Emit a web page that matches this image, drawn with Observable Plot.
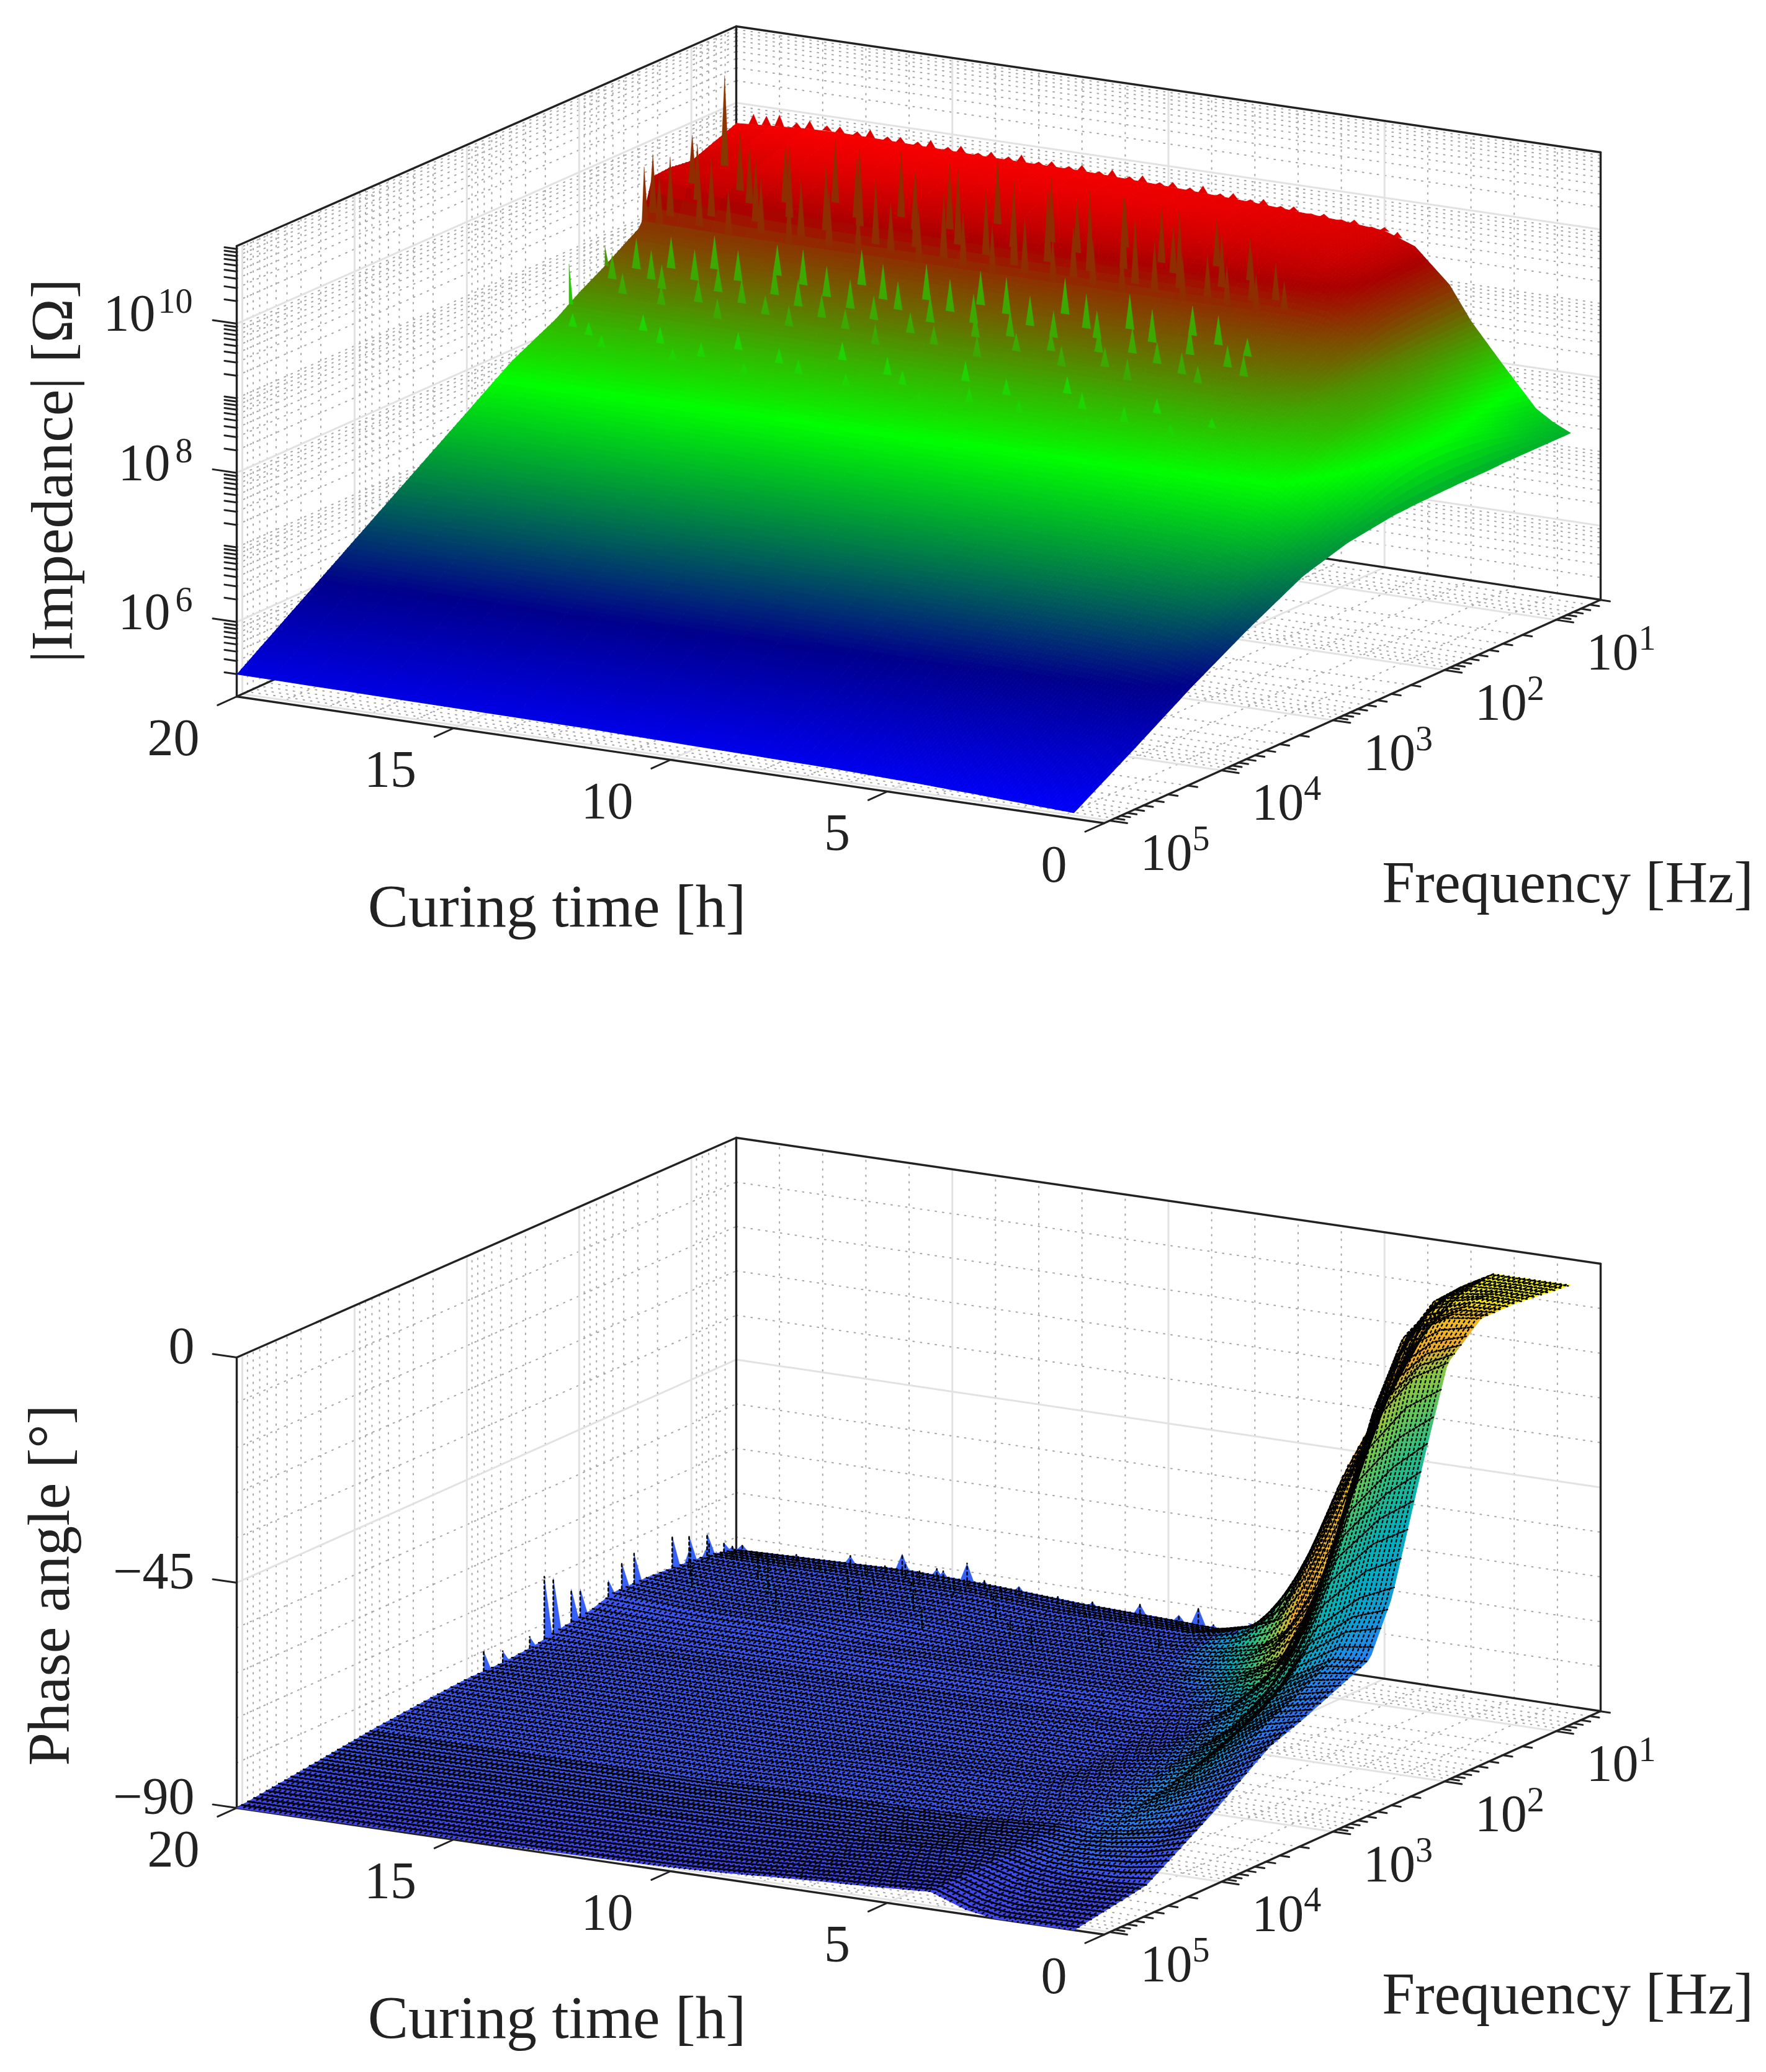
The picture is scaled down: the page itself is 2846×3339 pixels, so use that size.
<!DOCTYPE html>
<html><head><meta charset="utf-8">
<style>html,body{margin:0;padding:0;background:#fff}svg{display:block}</style>
<script src="https://cdn.jsdelivr.net/npm/d3@7"></script>
<script src="https://cdn.jsdelivr.net/npm/@observablehq/plot@0.6"></script>
</head><body><div id="chart"></div>
<script>
// ---------- shared axis values ----------
const timeTicks=[0,5,10,15,20];
const freqDecades=[1,2,3,4,5];
const logFreqMin=0.6, logFreqMax=5.05, timeMax=20;

// ---------- impedance: log10|Z|, rows = log10 f, cols = hours ----------
const impTimes=[0.7,1.1,1.5,2.3,3,3.5,4.3,5,6,8,10,12,14,16,18,20];
const impLogF=[0.6,0.8,1,1.2,1.35,1.45,1.6,1.8,2,2.2,2.6,3,3.5,4,4.5,5.05];
const impLogZ=[
[7.19,7.30,7.45,8.00,8.50,8.95,9.40,9.55,9.60,9.67,9.72,9.76,9.76,9.78,9.80,9.72],
[7.19,7.35,7.50,8.05,8.49,8.94,9.38,9.54,9.58,9.64,9.68,9.70,9.70,9.72,9.70,9.60],
[7.19,7.45,7.60,8.10,8.48,8.92,9.35,9.50,9.52,9.55,9.57,9.58,9.58,9.59,9.60,9.48],
[7.19,7.55,7.70,8.15,8.47,8.88,9.25,9.38,9.38,9.40,9.40,9.41,9.42,9.42,9.46,9.52],
[7.18,7.60,7.75,8.20,8.45,8.82,9.10,9.15,9.16,9.18,9.20,9.22,9.24,9.25,9.30,9.50],
[7.18,7.62,7.78,8.20,8.42,8.74,8.90,8.95,8.94,8.92,8.92,8.91,8.91,8.90,8.90,8.90],
[7.18,7.65,7.80,8.20,8.38,8.64,8.72,8.75,8.76,8.76,8.76,8.75,8.75,8.75,8.75,8.75],
[7.17,7.65,7.80,8.20,8.30,8.48,8.55,8.56,8.56,8.56,8.56,8.56,8.55,8.55,8.55,8.55],
[7.16,7.60,7.78,8.15,8.20,8.30,8.36,8.37,8.37,8.37,8.37,8.37,8.37,8.37,8.37,8.37],
[7.14,7.50,7.70,8.05,8.08,8.12,8.15,8.16,8.15,8.15,8.15,8.15,8.16,8.16,8.16,8.16],
[7.05,7.25,7.45,7.70,7.72,7.74,7.76,7.77,7.78,7.80,7.81,7.82,7.83,7.84,7.84,7.85],
[6.87,6.98,7.12,7.25,7.28,7.31,7.33,7.34,7.35,7.37,7.38,7.39,7.40,7.41,7.42,7.43],
[6.48,6.56,6.68,6.76,6.78,6.80,6.82,6.83,6.84,6.85,6.86,6.87,6.88,6.89,6.90,6.91],
[6.05,6.09,6.15,6.20,6.23,6.25,6.27,6.28,6.29,6.31,6.33,6.35,6.36,6.37,6.38,6.39],
[5.58,5.60,5.62,5.66,5.68,5.70,5.72,5.73,5.74,5.76,5.78,5.80,5.81,5.82,5.84,5.87],
[5.08,5.09,5.10,5.12,5.14,5.15,5.17,5.18,5.20,5.22,5.24,5.26,5.27,5.28,5.29,5.30]];
// noise peaks: hours, log10 f and peak log10|Z|
const redStreakT=[5.2,5.5,5.8,6,6.3,6.5,6.8,7,7.2,7.5,7.7,8,8.2,8.4,8.7,8.9,9.1,9.4,9.6,9.8,10.1,10.3,10.5,10.8,11,11.2,11.5,11.7,11.9,12.2,12.4,12.6,12.9,13.1,13.3,13.6,13.8,14,14.3,14.5,14.7,15,15.2,15.4,15.7,15.9,16.1,16.4,16.6,16.8,17.1,17.3,17.5,17.8,18,18.2,18.5,18.7,18.9,19.2,19.4,19.6,19.8,19.95];
const redStreakF=[1.42,1.38,1.44,1.4,1.3,1.43,1.36,1.41,1.25,1.44,1.39,1.33,1.42,1.28,1.4,1.44,1.35,1.22,1.43,1.38,1.41,1.3,1.44,1.37,1.26,1.42,1.4,1.33,1.44,1.38,1.2,1.43,1.36,1.41,1.28,1.44,1.39,1.32,1.42,1.25,1.4,1.44,1.35,1.3,1.43,1.38,1.22,1.41,1.44,1.36,1.28,1.42,1.39,1.33,1.44,1.26,1.4,1.43,1.37,1.3,1.42,1.44,1.42,1.44];
const redStreakZ=[9.4,9.6,9.45,9.7,9.8,9.5,9.85,9.6,9.95,9.55,10.1,9.85,9.7,10.05,9.95,9.5,10.15,10.05,9.6,10.2,9.7,10,9.55,10.1,10.2,9.75,10.2,9.95,9.6,10,10.3,9.7,10.25,9.9,10.2,9.65,10.1,10.05,9.7,10.25,9.95,9.55,10.3,10.1,9.75,10.05,10.25,9.8,9.6,10.2,10.15,9.75,10,10.1,9.55,10.2,9.9,9.7,10.05,10.1,9.87,9.6,9.87,9.7];
const greenStreakT=[4.9,5.2,5.4,5.7,6,6.2,6.4,6.7,6.9,7.2,7.4,7.6,7.9,8.1,8.3,8.6,8.8,9,9.3,9.5,9.7,10,10.2,10.4,10.7,10.9,11.1,11.4,11.6,11.8,12.1,12.3,12.5,12.8,13,13.2,13.5,13.7,13.9,14.2,14.4,14.6,14.9,15.1,15.3,15.6,15.8,16,16.3,16.5,16.7,17,17.2,17.4,17.7,17.9,18.1,18.4,18.6,18.8,19.1,19.3,19.6];
const greenStreakF=[1.9,1.75,1.85,2,1.7,1.95,1.8,1.66,1.9,2.05,1.75,1.85,1.98,1.68,1.88,1.78,2.02,1.72,1.92,1.82,1.64,1.96,1.76,1.86,2.04,1.7,1.9,1.8,1.66,2,1.74,1.84,1.94,1.68,2.06,1.78,1.88,1.72,1.98,1.82,1.64,1.92,1.76,2.02,1.86,1.7,1.96,1.8,1.66,1.9,2.04,1.74,1.84,1.94,1.68,1.78,2,1.88,1.72,1.82,1.96,1.76,1.86];
const greenStreakZ=[8.75,8.85,8.8,8.6,9.05,8.7,8.95,9.1,8.75,8.6,9.05,8.85,8.65,9.15,8.8,8.95,8.62,9.1,8.7,8.9,9.2,8.65,9,8.85,8.6,9.15,8.78,8.95,9.15,8.62,9.05,8.88,8.7,9.15,8.58,8.95,8.8,9.1,8.65,8.92,9.18,8.75,9,8.62,8.85,9.12,8.66,8.95,9.1,8.78,8.6,9.02,8.85,8.72,9.12,8.98,8.62,8.8,9.05,8.92,8.68,9,8.82];
const lightStreakT=[4.6,5.3,6,6.5,7.1,7.6,8.2,8.8,9.4,10,10.5,11,11.7,12.2,12.8,13.4,14,14.6,15.1,15.7,16.3,16.8,17.4,18,18.5,19,19.5];
const lightStreakF=[2.3,2.4,2.25,2.35,2.45,2.3,2.2,2.4,2.28,2.38,2.22,2.44,2.32,2.26,2.4,2.2,2.36,2.3,2.42,2.24,2.34,2.4,2.28,2.2,2.38,2.3,2.25];
const lightStreakZ=[8.2,8.12,8.3,8.22,8.1,8.28,8.38,8.14,8.3,8.2,8.4,8.08,8.24,8.34,8.16,8.4,8.22,8.28,8.12,8.36,8.24,8.16,8.32,8.38,8.18,8.26,8.3];
const backToothT=[4.7,5,5.3,5.7,6,6.4,6.7,7.1,7.4,7.8,8.1,8.5,8.8,9.2,9.5,9.9,10.2,10.6,10.9,11.3,11.6,12,12.3,12.7,13,13.4,13.7,14.1,14.4,14.8,15.1,15.5,15.8,16.2,16.5,16.9,17.2,17.6,17.9,18.3,18.6,19,19.3,19.6];
const backToothZ=[9.56,9.6,9.58,9.64,9.62,9.66,9.64,9.7,9.68,9.74,9.71,9.76,9.73,9.8,9.75,9.79,9.76,9.82,9.78,9.84,9.79,9.84,9.8,9.83,9.8,9.86,9.81,9.84,9.8,9.86,9.82,9.88,9.83,9.86,9.84,9.9,9.85,9.88,9.87,9.9,9.85,9.92,9.88,9.88];
const tallPeakT=[19.1,20,20], tallPeakF=[1.05,2.09,1.77], tallPeakZ=[10.75,8.82,8.84], tallPeakShade=[8.9,8.0,8.3];
const impDecades=[6,8,10];

// ---------- phase angle (degrees) ----------
const phaseTimes=[0.7,1.5,2.5,3.2,4,5,5.9,6.5,7.4,8.5,10,12,14,16,18,20];
const phaseLogF=[0.6,0.85,1.1,1.4,1.7,1.9,2.05,2.2,2.4,2.7,3,3.3,3.8,4.4,5.05];
const phaseDeg=[
[-5.2,-5.2,-5.2,-10,-18,-34,-49,-62,-81,-85,-84.5,-84,-83,-82.5,-83,-83.5],
[-4.6,-4.6,-5,-9,-24,-44,-62,-72,-80,-83,-83,-83,-82,-82,-82,-82],
[-4,-4,-6,-14,-35,-62,-76,-80,-82,-83,-83,-83,-82,-82,-82,-81.5],
[-4,-5,-10,-26,-52,-76,-81,-82,-83,-83,-83,-83,-82,-82,-82,-81],
[-10,-14,-25,-46,-68,-80,-82,-83,-83,-83,-83,-83,-83,-82,-82,-81],
[-26,-32,-42,-58,-74,-81,-83,-83,-83,-83,-83,-83,-83,-83,-83,-82.5],
[-39,-43,-52,-66,-77,-82,-83,-83.5,-83.5,-83.5,-83.5,-83.5,-83.5,-83.5,-83.5,-83],
[-52,-55,-62,-72,-79,-82.5,-83.5,-84,-84,-84,-84,-84,-84,-84,-84,-83.5],
[-62.5,-63,-68,-76,-81,-83,-84,-84,-84,-84,-84,-84,-84,-84,-84,-84.5],
[-65.5,-67,-72,-79,-82,-83.5,-84.5,-84.5,-84.5,-84.5,-84.5,-84.5,-84.5,-84.5,-84.5,-85],
[-68.5,-70,-76,-81,-83,-84,-85,-85,-85,-85,-85,-85,-85,-85,-85,-85],
[-71,-75,-80,-83,-84,-84.5,-85,-85,-85,-85,-85,-85.5,-85.5,-85.5,-85.5,-85.5],
[-79,-82,-84,-85,-85,-85.5,-86,-86,-86,-86,-86,-86.5,-86.5,-86.5,-86.5,-86.5],
[-87.5,-88,-88,-87.5,-86,-86,-86.4,-86.6,-87,-87.2,-87.6,-87.8,-88,-88,-88.2,-88.2],
[-90,-90,-90,-89,-86.5,-87,-87.4,-87.6,-88,-88.6,-89.2,-89.5,-89.7,-89.8,-89.9,-90]];
// the picture's surface colour does not follow the height exactly: colour read separately
const shadeTimes=phaseTimes.slice(0,10);
const phaseShade=[
[0,0,0,-5,-10,-15,-20,-30,-50,-83],
[0,0,-2,-6,-10,-13,-16,-28,-52,-83],
[-2,-2,-4,-8,-12,-14,-20,-36,-60,-83],
[-12,-12,-12,-12,-14,-18,-36,-56,-78,-83],
[-28,-28,-26,-24,-22,-38,-60,-78,-83,-83],
[-44,-42,-38,-34,-36,-58,-78,-83,-83,-83],
[-55,-52,-48,-42,-46,-68,-83,-83,-83,-83],
[-62,-58,-54,-48,-54,-78,-83,-83,-83,-83],
[-72,-66,-58,-52,-62,-83,-83,-83,-83,-83],
[-76,-70,-60,-56,-72,-83,-83,-83,-83,-83],
[-78,-72,-60,-60,-78,-83,-83,-83,-83,-83],
[-80,-74,-64,-68,-80,-83,-83,-83,-83,-83],
[-82,-78,-72,-76,-83,-83,-83,-83,-83,-83],
[-84,-84,-84,-84,-84,-84,-84,-84,-84,-84],
[-86,-86,-86,-86,-86,-86,-86,-86,-86,-86]];
const phasePeakT=[20,20,20,20,20,20,20,20,20,20,20,20,20,20,19.6,19.2,18.8,18.35,17.9,17.5,17.1,16.7,16.3,15.9,15.5,15.1,14.7,14.4,14,13.6,13.2,12.8,12.3,11.9,11.5,11,10.4,10,9.5,9.05,8.7,8.2,7.7];
const phasePeakF=[2.85,2.68,2.44,2.31,2.23,2.07,1.99,1.74,1.62,1.51,1.17,1.02,0.86,0.71,0.7,0.7,0.7,0.7,0.7,0.7,0.7,0.7,0.7,0.7,0.7,0.7,0.7,0.7,0.7,0.7,0.7,0.7,0.7,0.7,0.7,0.7,0.7,0.7,0.7,0.7,0.7,0.7,0.7];
const phasePeakDeg=[-81,-82.7,-82.3,-71.5,-72.5,-76.4,-77.2,-78,-75.7,-75,-75,-76.5,-77.5,-81,-81,-82,-83,-81.4,-82.5,-83,-80,-82,-81,-78,-81,-80,-82,-78,-81,-82,-81,-83,-82,-83,-82,-83,-81,-83,-82,-80,-83,-83.5,-83];
const phaseToothT=[19.85,19.7,19.4,19,18.6,18.1,17.7,17.3,16.9,16.5,16.1,15.7,15.3,14.9,14.55,14.2,13.8,13.4,13,12.6,12.1,11.7,11.25,10.8,10.2,9.75,9.3,8.9,8.45,8,19.5,18.95,18.2,17.45,16.75,16,15.2,14.35,13.5,12.7,11.85,11.1,10.3,9.6,8.8];
const phaseToothF=[0.9,0.75,0.85,0.72,0.8,0.9,0.75,0.85,0.72,0.8,0.88,0.75,0.85,0.72,0.8,0.9,0.75,0.85,0.72,0.8,0.88,0.75,0.85,0.72,0.8,0.9,0.75,0.85,0.72,0.8,1.2,1.4,1.1,1.3,1.5,1.15,1.35,1.2,1.45,1.1,1.3,1.4,1.2,1.35,1.15];
const phaseToothDeg=[-79,-81,-80,-82,-81,-80,-83,-81,-82.5,-80,-81,-79,-81,-80,-82,-79,-82,-81,-82,-83,-83,-83.5,-82,-83.5,-82,-83,-83.5,-82,-83,-83.5,-76,-78,-77,-75,-78,-77,-76,-75,-78,-79,-80,-79,-80,-79,-80];
const phaseTicks=[-90,-45,0];

// ---------- view of the box (camera read from the box corners) ----------
const floorCorners={a:[1779,1326],b:[381,1122],c:[2579,966],d:[1186,757]};
const wallHeights={a:732,b:726,c:721,d:715};
function projector(vmin,vmax,shift){
  return (t,lf,v)=>{
    const u=t/timeMax,w=(logFreqMax-lf)/(logFreqMax-logFreqMin);
    const mix=k=>(1-u)*(1-w)*k.a+u*(1-w)*k.b+(1-u)*w*k.c+u*w*k.d;
    const X=mix({a:floorCorners.a[0],b:floorCorners.b[0],c:floorCorners.c[0],d:floorCorners.d[0]});
    const Y=mix({a:floorCorners.a[1],b:floorCorners.b[1],c:floorCorners.c[1],d:floorCorners.d[1]});
    return [X,Y-mix(wallHeights)*(v-vmin)/(vmax-vmin)+shift];
  };
}
function lookup(table,rows,cols){
  return (t,lf)=>{
    const loc=(arr,v)=>{let i=Math.min(arr.length-2,Math.max(0,d3.bisectRight(arr,v)-1));
      return [i,Math.max(0,Math.min(1,(v-arr[i])/(arr[i+1]-arr[i])))];};
    const [i,a]=loc(rows,lf),[j,b]=loc(cols,t);
    return (1-a)*((1-b)*table[i][j]+b*table[i][j+1])+a*((1-b)*table[i+1][j]+b*table[i+1][j+1]);
  };
}
// shading positions (like shader=interp): where the table is sampled for drawing
const shadeLf=[...d3.range(0.6,2,0.03),...d3.range(2,5.05,0.035),5.05];
const shadeT=[...d3.range(20,8,-0.8),...d3.range(8,5.5,-0.25),...d3.range(5.5,0.7,-0.08),0.7];

function surfaceRows(height,shade,proj){
  const out=[];let id=0;
  for(let i=0;i<shadeLf.length-1;i++)for(let j=0;j<shadeT.length-1;j++){
    const a=shadeLf[i],b=shadeLf[i+1],p=shadeT[j],q=shadeT[j+1];
    const c=shade((p+q)/2,(a+b)/2);
    for(const [t,f] of [[p,a],[q,a],[q,b],[p,b]]){const P=proj(t,f,height(t,f));out.push({x:P[0],y:P[1],id,c});}
    id++;
  }
  return out;
}
function peakRows(ts,fs,zs,shades,width,height,proj){
  const out=[];
  ts.forEach((t,k)=>{
    const f=fs(k),base=height(t,f),c=shades(k);
    for(const [tt,v] of [[Math.min(20,t+width),base],[t,zs[k]],[t-width,base]]){const P=proj(tt,f,v);out.push({x:P[0],y:P[1],id:k,c});}
  });
  return out;
}
function lineRows(list,proj){ // list of [[t,lf,v],[t,lf,v],...]
  const out=[];list.forEach((pts,id)=>pts.forEach(p=>{const P=proj(...p);out.push({x:P[0],y:P[1],id});}));return out;
}
const T0=0,T1=timeMax,F0=logFreqMin,F1=logFreqMax;
function grid(vmin,vmax,majorV,minorV,proj){
  const major=[],minor=[];
  const lfMinor=[];for(let e=0;e<6;e++)for(let k=2;k<10;k++){const v=e+Math.log10(k);if(v>F0&&v<F1)lfMinor.push(v);}
  const tMinor=d3.range(1,20).filter(t=>t%5);
  for(const v of majorV){major.push([[T1,F1,v],[T1,F0,v]],[[T1,F0,v],[T0,F0,v]]);}
  for(const v of minorV){minor.push([[T1,F1,v],[T1,F0,v]],[[T1,F0,v],[T0,F0,v]]);}
  for(const e of freqDecades){major.push([[T1,e,vmin],[T1,e,vmax]],[[T0,e,vmin],[T1,e,vmin]]);}
  for(const t of [5,10,15]){major.push([[t,F0,vmin],[t,F0,vmax]],[[t,F1,vmin],[t,F0,vmin]]);}
  for(const f of lfMinor){minor.push([[T1,f,vmin],[T1,f,vmax]],[[T0,f,vmin],[T1,f,vmin]]);}
  for(const t of tMinor){minor.push([[t,F0,vmin],[t,F0,vmax]],[[t,F1,vmin],[t,F0,vmin]]);}
  return [
    Plot.line(lineRows(minor,proj),{x:"x",y:"y",z:"id",stroke:"#a6a6a6",strokeWidth:2,strokeDasharray:"2 10"}),
    Plot.line(lineRows(major,proj),{x:"x",y:"y",z:"id",stroke:"#e2e2e2",strokeWidth:3})
  ];
}
function box(vmin,vmax,proj){
  const edges=[
    [[T1,F1,vmin],[T1,F1,vmax]],[[T1,F1,vmax],[T1,F0,vmax]],[[T1,F0,vmax],[T0,F0,vmax]],
    [[T0,F0,vmax],[T0,F0,vmin]],[[T1,F0,vmin],[T1,F0,vmax]],
    [[T0,F0,vmin],[T1,F0,vmin]],[[T1,F0,vmin],[T1,F1,vmin]],
    [[T0,F1,vmin],[T1,F1,vmin]],[[T0,F1,vmin],[T0,F0,vmin]]];
  return Plot.line(lineRows(edges,proj),{x:"x",y:"y",z:"id",stroke:"#222",strokeWidth:3.4});
}
function floorTicks(vmin,proj){
  const ticks=[];
  for(const t of timeTicks)ticks.push([[t,F1,vmin],[t,F1+0.17,vmin]]);
  for(let e=1;e<=5;e++)ticks.push([[0,e,vmin],[-0.4,e,vmin]]);
  for(let e=0;e<5;e++)for(let k=2;k<10;k++){const f=e+Math.log10(k);if(f>F0&&f<F1)ticks.push([[0,f,vmin],[-0.22,f,vmin]]);}
  return Plot.line(lineRows(ticks,proj),{x:"x",y:"y",z:"id",stroke:"#222",strokeWidth:3});
}
const serif="Liberation Serif";
function floorLabels(vmin,proj){
  const p=a=>proj(...a);
  return [
    Plot.text(timeTicks,{x:t=>p([t,F1,vmin])[0],y:t=>p([t,F1,vmin])[1],text:t=>String(t),dx:-60,dy:68,textAnchor:"end",fontFamily:serif,fontSize:84,fill:"#222"}),
    Plot.text(freqDecades,{x:e=>p([0,e,vmin])[0],y:e=>p([0,e,vmin])[1],text:()=>"10",dx:91,dy:53,fontFamily:serif,fontSize:84,fill:"#222"}),
    Plot.text(freqDecades,{x:e=>p([0,e,vmin])[0],y:e=>p([0,e,vmin])[1],text:e=>String(e),dx:147,dy:30,fontFamily:serif,fontSize:56,fill:"#222"})
  ];
}
function titles(side,sideX,sideY,shift){
  return [
    Plot.text([side],{x:sideX,y:sideY,text:d=>d,rotate:-90,fontFamily:serif,fontSize:96,fill:"#222"}),
    Plot.text(["Curing time [h]"],{x:897,y:1461+shift,text:d=>d,fontFamily:serif,fontSize:98,fill:"#222"}),
    Plot.text(["Frequency [Hz]"],{x:2526,y:1423+shift,text:d=>d,fontFamily:serif,fontSize:95,fill:"#222"})
  ];
}
function frame(height,color,marks){
  return Plot.plot({width:2846,height,margin:0,
    x:{domain:[0,2846],range:[0,2846],axis:null},y:{domain:[0,height],range:[0,height],axis:null},
    color,style:{background:"#fff"},marks});
}

// ---------- top panel ----------
const zMin=5,zMax=11.04;
const pA=projector(zMin,zMax,0);
const impH=lookup(impLogZ,impLogF,impTimes);
const zMinor=[];for(let e=5;e<11;e++)for(let k=1;k<10;k++){const v=e+Math.log10(k);if(!impDecades.includes(v)&&v>zMin)zMinor.push(v);}
zMinor.push(11);
const zTicksMinor=zMinor.map(v=>[[T1,F1,v],[T1+0.28,F1,v]]),zTicksMajor=impDecades.map(v=>[[T1,F1,v],[T1+0.55,F1,v]]);
const fillOpts={x:"x",y:"y",z:"id",fill:"c",stroke:"c",strokeWidth:1.1};
const thin={...fillOpts,strokeWidth:.4};
const impColor={type:"linear",domain:[5.05,6.05,7.7,8.6,9.25,9.65,9.85],range:["#0000ff","#00008c","#00ff00","#6e6400","#aa0000","#e60000","#ff0000"],interpolate:"rgb",clamp:true};
const topPlot=frame(1670,impColor,[
  ...grid(zMin,zMax,impDecades,zMinor,pA),
  box(zMin,zMax,pA),floorTicks(zMin,pA),
  Plot.line(lineRows([...zTicksMinor,...zTicksMajor],pA),{x:"x",y:"y",z:"id",stroke:"#222",strokeWidth:3}),
  Plot.line(peakRows(backToothT,()=>0.6,backToothZ,()=>9.62,0.11,impH,pA),thin),
  Plot.line(surfaceRows(impH,impH,pA),fillOpts),
  Plot.line(peakRows(redStreakT,k=>redStreakF[k],redStreakZ,()=>8.95,0.09,impH,pA),thin),
  Plot.line(peakRows(greenStreakT,k=>greenStreakF[k],greenStreakZ,()=>8.2,0.1,impH,pA),thin),
  Plot.line(peakRows(lightStreakT,k=>lightStreakF[k],lightStreakZ,()=>7.95,0.1,impH,pA),thin),
  Plot.line(peakRows(tallPeakT,k=>tallPeakF[k],tallPeakZ,k=>tallPeakShade[k],0.09,impH,pA),thin),
  ...floorLabels(zMin,pA),
  Plot.text(impDecades,{x:v=>pA(T1,F1,v)[0]-(v===10?131:107),y:v=>pA(T1,F1,v)[1],text:()=>"10",textAnchor:"end",dy:-15,fontFamily:serif,fontSize:84,fill:"#222"}),
  Plot.text(impDecades,{x:v=>pA(T1,F1,v)[0],y:v=>pA(T1,F1,v)[1],text:v=>String(v),textAnchor:"end",dx:-71,dy:-35,fontFamily:serif,fontSize:56,fill:"#222"}),
  ...titles("|Impedance| [Ω]",85,758,0)
]);

// ---------- bottom panel ----------
const shift=121,pBase=projector(-90,0,shift);
const phH=lookup(phaseDeg,phaseLogF,phaseTimes);
const phS=lookup(phaseShade,phaseLogF,shadeTimes);
const phMinor=d3.range(-81,0,9).filter(v=>v!==-45);
const phColor={type:"linear",domain:[-90,-83,-70,-55,-42,-30,-20,-8,0],
  range:["#4632e1","#3c55f5","#2387f0","#00afbe","#28be82","#82c846","#f0aa28","#f0c81e","#ffff00"],interpolate:"rgb",clamp:true};
const meshLow=d3.range(0.62,3.9,0.06).map(f=>shadeT.map(t=>[t,f]));
const meshMid=d3.range(3.9,4.4,0.05).map(f=>shadeT.map(t=>[t,f]));
const meshHigh=d3.range(4.4,5.05,0.055).map(f=>shadeT.map(t=>[t,f]));
const meshCol=d3.range(0.8,20,0.12).map(t=>shadeLf.map(f=>[t,f]));
const meshPts=l=>lineRows(l.map(ps=>ps.map(([t,f])=>[t,f,phH(t,f)])),pBase);
const allPeakT=[...phasePeakT,...phaseToothT],allPeakF=[...phasePeakF,...phaseToothF],allPeakDeg=[...phasePeakDeg,...phaseToothDeg];
const peakMesh=allPeakT.map((t,k)=>[[t,allPeakF[k],phH(t,allPeakF[k])],[t,allPeakF[k],allPeakDeg[k]]]);
const botPlot=frame(1669,phColor,[
  ...grid(-90,0,[-45],phMinor,pBase),
  box(-90,0,pBase),floorTicks(-90,pBase),
  Plot.line(lineRows(phaseTicks.map(v=>[[T1,F1,v],[T1+0.55,F1,v]]),pBase),{x:"x",y:"y",z:"id",stroke:"#222",strokeWidth:3}),
  Plot.line(peakRows(allPeakT,k=>allPeakF[k],allPeakDeg,()=>-80,0.2,phH,pBase),thin),
  Plot.line(surfaceRows(phH,phS,pBase),fillOpts),
  Plot.line(peakRows(phaseToothT,k=>phaseToothF[k],phaseToothDeg,()=>-80,0.16,phH,pBase),thin),
  Plot.line(meshPts(meshLow),{x:"x",y:"y",z:"id",stroke:"#000",strokeWidth:2.6,strokeDasharray:"3 3"}),
  Plot.line(meshPts(meshMid),{x:"x",y:"y",z:"id",stroke:"#000",strokeWidth:2.8,strokeDasharray:"5 2"}),
  Plot.line(meshPts(meshHigh),{x:"x",y:"y",z:"id",stroke:"#03061e",strokeWidth:3}),
  Plot.line(meshPts(meshCol),{x:"x",y:"y",z:"id",stroke:"#000",strokeWidth:2.4,strokeDasharray:"3 5"}),
  Plot.line(lineRows(peakMesh,pBase),{x:"x",y:"y",z:"id",stroke:"#000",strokeWidth:2.6,strokeDasharray:"4 5"}),
  ...floorLabels(-90,pBase),
  Plot.text(phaseTicks,{x:v=>pBase(T1,F1,v)[0],y:v=>pBase(T1,F1,v)[1],text:v=>String(v).replace("-","\u2212"),textAnchor:"end",dx:-68,dy:-17,fontFamily:serif,fontSize:84,fill:"#222"}),
  ...titles("Phase angle [°]",80,884,shift)
]);
document.getElementById("chart").append(topPlot,botPlot);
</script></body></html>
